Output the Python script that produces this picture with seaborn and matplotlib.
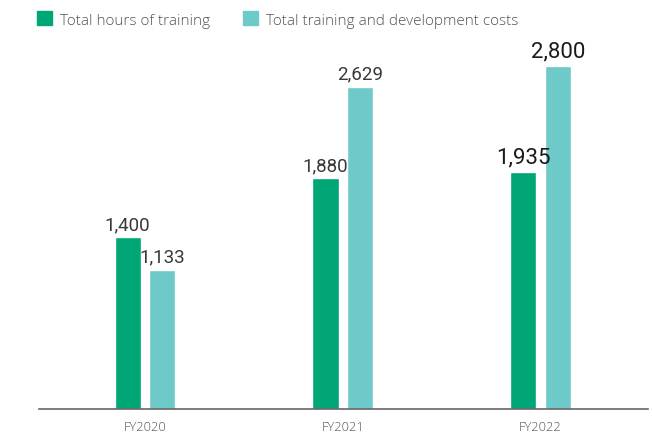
import matplotlib
matplotlib.use('Agg')
import matplotlib.pyplot as plt
import numpy as np
import pandas as pd
import seaborn as sns

years = ['FY2020', 'FY2021', 'FY2022']
series = ['Total hours of training', 'Total training and development costs']
hours = [1400, 1880, 1935]
costs = [1133, 2629, 2800]
colors = ['#00A676', '#6DCAC8']

data = pd.DataFrame({
    'year': years * 2,
    'series': [series[0]] * 3 + [series[1]] * 3,
    'value': hours + costs,
})

sns.set_style('white')
plt.rcParams['font.family'] = ['Open Sans', 'DejaVu Sans']

fig = plt.figure(figsize=(6.52, 4.39), dpi=100)
ax = fig.add_axes([39 / 652, 29 / 439, 609 / 652, 368 / 439])

sns.barplot(data=data, x='year', y='value', hue='series', palette=colors,
            width=0.35, gap=0.24, saturation=1, ax=ax, legend=False)

ax.set_xlim(-0.536, 2.544)
ax.set_ylim(0, 3000)
ax.set_xlabel('')
ax.set_ylabel('')
ax.set_yticks([])
for s in ['top', 'right', 'left']:
    ax.spines[s].set_visible(False)
ax.spines['bottom'].set_color('#666666')
ax.spines['bottom'].set_linewidth(1.2)
ax.tick_params(axis='x', length=0, pad=8, labelsize=9.3, labelcolor='#555555')
for t in ax.get_xticklabels():
    t.set_fontweight('light')

# value labels, last year drawn bigger and darker
for cont in ax.containers:
    texts = ax.bar_label(cont, labels=[f'{v:,.0f}' for v in cont.datavalues],
                         padding=3, fontsize=13.5, color='#383838',
                         family=['Roboto', 'DejaVu Sans'])
    texts[-1].set_fontsize(16)
    texts[-1].set_color('#1a1a1a')

handles = [plt.Rectangle((0, 0), 1, 1, color=c) for c in colors]
leg = fig.legend(handles, series, loc='center left', bbox_to_anchor=(0.057, 1 - 20.5 / 439),
                 ncol=2, frameon=False, handlelength=1.0, handleheight=1.0,
                 handletextpad=0.5, columnspacing=2.15, fontsize=11,
                 labelcolor='#555555', borderaxespad=0, borderpad=0)
for t in leg.get_texts():
    t.set_fontweight('light')

fig.savefig('out.png', dpi=100)
